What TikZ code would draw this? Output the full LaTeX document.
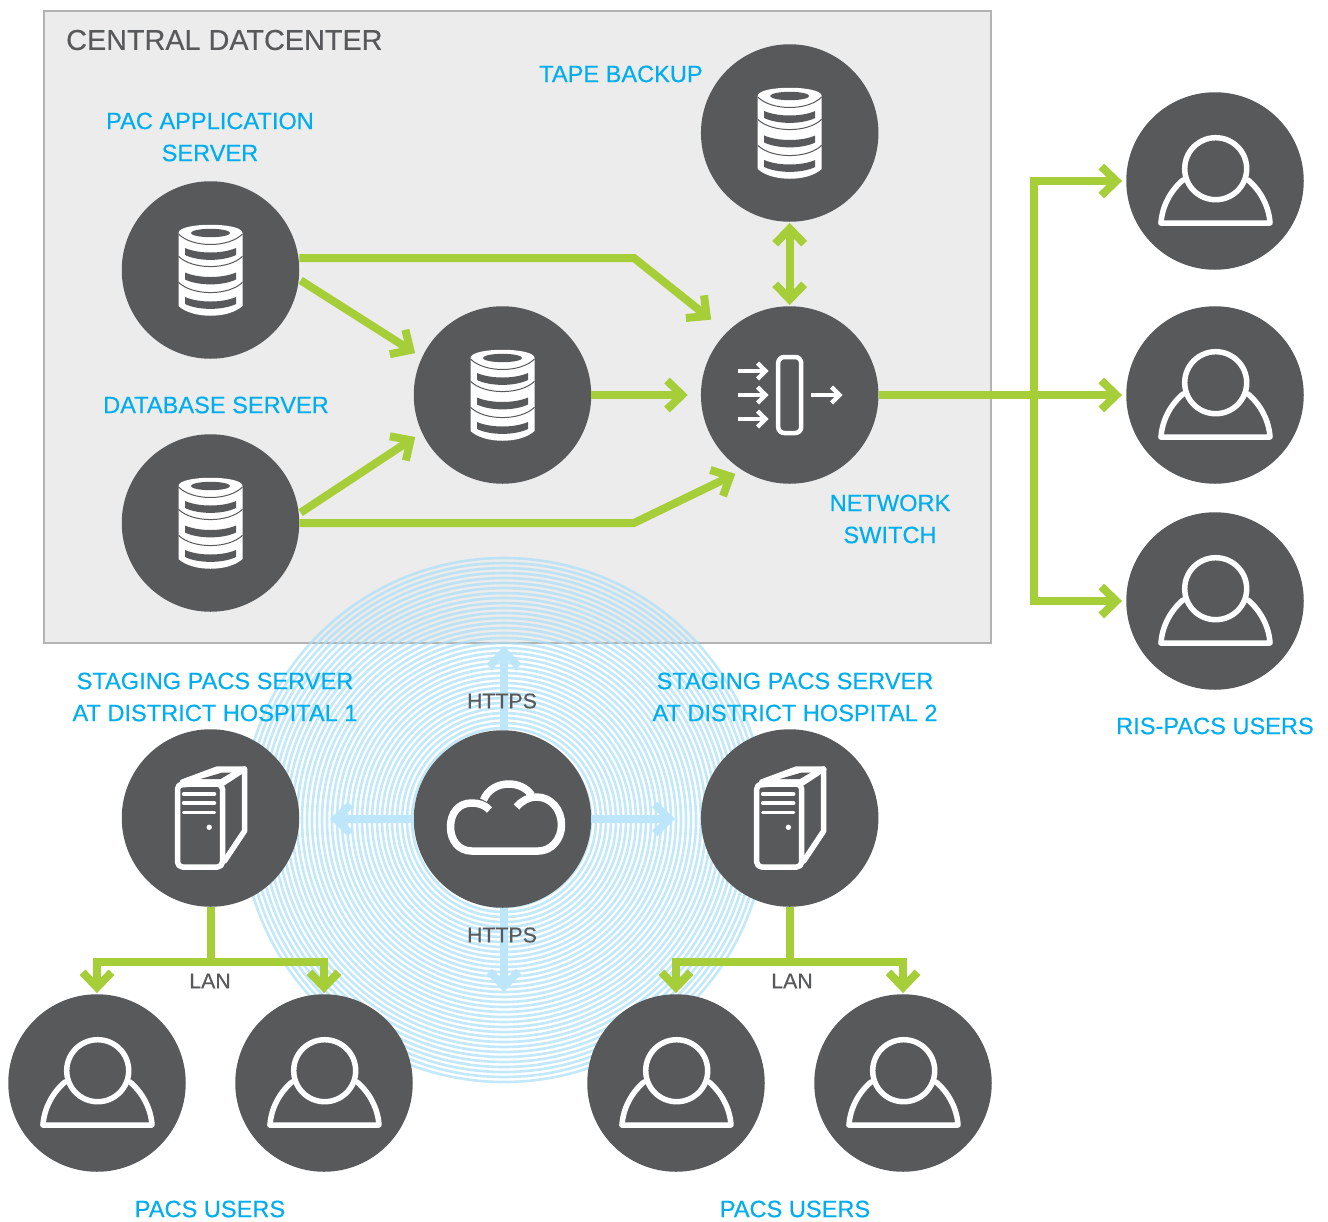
\documentclass[tikz,border=0pt]{standalone}
\usepackage{fontspec}
\setmainfont{Liberation Sans}
\newfontfamily\namefont[FakeBold=0.4]{Liberation Sans}
\usetikzlibrary{arrows.meta}

\definecolor{hubgray}{HTML}{58595B}
\definecolor{flowgreen}{HTML}{A6CE39}
\definecolor{namecyan}{HTML}{00AEEF}
\definecolor{webblue}{HTML}{BDE6FB}
\definecolor{ringblue}{HTML}{A9DEF6}
\definecolor{boxgray}{HTML}{ECECEC}
\definecolor{boxline}{HTML}{B3B3B3}

\tikzset{
	hub/.style={circle,fill=hubgray,minimum size=177.5pt,inner sep=0pt},
	flow/.style={draw=flowgreen,line width=8pt,-{Straight Barb[length=15pt,width=29pt]}},
	flowplain/.style={draw=flowgreen,line width=8pt},
	webflow/.style={draw=webblue,line width=7.5pt,-{Straight Barb[length=15pt,width=29pt]}},
	placename/.style={text=namecyan,align=center,inner sep=0pt,font=\namefont\fontsize{23.6}{32}\selectfont},
	linkname/.style={text=hubgray,align=center,inner sep=0pt,font=\namefont\fontsize{21.3}{26}\selectfont},
	iconline/.style={draw=white,line width=5.5pt,line join=round,line cap=round},
}

\newcommand{\dbicon}[1]{
	\begin{scope}[shift={(#1)},yshift=1pt]
		\fill[white] (-32,-36) .. controls (-32,-47) and (32,-47) .. (32,-36) -- (32,37)
			.. controls (18,50) and (-18,50) .. (-32,37) -- cycle;
		\fill[hubgray] (0,-36) ellipse (19.5 and 4.2);
		\draw[hubgray,line width=1pt] (-32,-35) .. controls (-18,-21) and (18,-21) .. (32,-35);
		\foreach \slice in {0,1,2}{
			\fill[hubgray,yshift=-24.5*\slice pt] (-25.5,-21) .. controls (-12,-15) and (12,-15) .. (25.5,-21)
				-- (25.5,-14) .. controls (12,-7.5) and (-12,-7.5) .. (-25.5,-14) -- cycle;
		}
		\foreach \slice in {0,1}{
			\draw[hubgray,line width=1pt,yshift=-26*\slice pt] (-32,-12.7) .. controls (-18,1) and (18,1) .. (32,-12.7);
		}
	\end{scope}
}
\newcommand{\usericon}[1]{
	\begin{scope}[shift={(#1)}]
		\draw[iconline] (-54,42) -- (55,42) .. controls (54,26) and (46,10) .. (33,-1);
		\draw[iconline] (-54,42) .. controls (-53,26) and (-45,10) .. (-32,-1);
		\draw[iconline] (0.7,-12.3) circle (31);
	\end{scope}
}
\newcommand{\servericon}[1]{
	\begin{scope}[shift={(#1)}]
		\fill[white] (-33,-30) -- (7,-49) -- (34,-49) -- (11,-34) -- cycle;
		\fill[hubgray] (-10,-39) -- (12,-45.5) -- (21,-45.5) -- (10,-39) -- cycle;
		\draw[iconline] (-28,-36) -- (7,-49) -- (34,-49) -- (34,13) -- (14,43);
		\draw[iconline] (11,-34) -- (34,-49);
		\draw[iconline,rounded corners=5pt] (-33,-34) rectangle (12,49);
		\foreach \ventpos in {-24,-15,-5.7}{
			\draw[white,line width=3.5pt,line cap=round] (-27,\ventpos) -- (4,\ventpos);
		}
		\fill[white] (-1.3,9.3) circle (2.7);
	\end{scope}
}
\newcommand{\switchicon}[1]{
	\begin{scope}[shift={(#1)}]
		\draw[iconline,rounded corners=6pt,line width=4.5pt] (-11.5,-38) rectangle (11.5,38);
		\foreach \inpos in {-24,0,24}{
			\draw[white,line width=4.5pt,-{Straight Barb[length=8pt,width=16pt]}] (-52,\inpos) -- (-21,\inpos);
		}
		\draw[white,line width=4.5pt,-{Straight Barb[length=8pt,width=16pt]}] (21,0) -- (53,0);
	\end{scope}
}
\newcommand{\cloudicon}[1]{
	\begin{scope}[shift={(#1)}]
		\draw[iconline,line cap=butt,line width=7.5pt] (14,-12) .. controls (19,-18) and (26,-22) .. (34,-22)
			.. controls (49,-22) and (59,-9) .. (59,6) .. controls (59,20) and (49,32) .. (36,32)
			-- (-31,32) .. controls (-44,32) and (-52,21) .. (-52,8)
			.. controls (-52,-6) and (-44,-16) .. (-31,-16) .. controls (-24,-16) and (-17,-14) .. (-13,-9);
		\draw[iconline,line cap=butt,line width=7.5pt] (-19,-19) .. controls (-15,-29) and (-5,-35) .. (6,-35)
			.. controls (16,-35) and (24,-31) .. (29,-24);
	\end{scope}
}

\begin{document}
\begin{tikzpicture}[x=1pt,y=-1pt]
	\useasboundingbox (0,0) rectangle (1328,1221);

	\draw[fill=boxgray,draw=boxline,line width=2.5pt] (44,11) rectangle (991,643);

	% rings round the cloud
	\coordinate (ripple) at (504,820);
	\foreach \ringr in {87,92,...,262}{
		\draw[ringblue,line width=2.6pt,opacity=.7] (ripple) circle (\ringr);
	}

	\node[hub] (app) at (210.5,270) {};
	\node[hub] (db) at (210.5,523) {};
	\node[hub] (mid) at (502.5,395) {};
	\node[hub] (switch) at (789.7,395) {};
	\node[hub] (tape) at (789.7,133) {};
	\node[hub] (cloud) at (502.5,819) {};
	\node[hub] (stagea) at (210.5,818) {};
	\node[hub] (stageb) at (789.7,818) {};
	\foreach \usrname/\usrpos in {risa/{1215,181},risb/{1215,395},risc/{1215,601},
		pacsa/{97,1083},pacsb/{324,1083},pacsc/{676,1083},pacsd/{903,1083}}{
		\node[hub] (\usrname) at (\usrpos) {};
		\usericon{\usrname}
	}
	\dbicon{app}
	\dbicon{db}
	\dbicon{mid}
	\dbicon{tape}
	\switchicon{switch}
	\cloudicon{cloud}
	\servericon{stagea}
	\servericon{stageb}

	\coordinate (bendtop) at (634,258);
	\coordinate (bendlow) at (634,523);
	\coordinate (uplink) at (1034,395);
	\coordinate (upturn) at (1034,181);
	\coordinate (downturn) at (1034,601);
	\coordinate (lana) at (210.5,962);
	\coordinate (lanaleft) at (97,962);
	\coordinate (lanaright) at (324,962);
	\coordinate (lanb) at (789.7,962);
	\coordinate (lanbleft) at (676,962);
	\coordinate (lanbright) at (903,962);
	\coordinate (webup) at (504,646);
	\coordinate (webleft) at (330,819);
	\coordinate (webright) at (675,819);
	\coordinate (webdown) at (504,992);

	\draw[flow,shorten >=20pt] (app.east |- bendtop) -- (bendtop) -- (switch.135);
	\draw[flow,shorten <=2pt,shorten >=8pt] (app.-6) -- (mid.155);
	\draw[flow,shorten <=2pt,shorten >=8pt] (db.6) -- (mid.205);
	\draw[flow,shorten >=8pt] (db.east) -- (bendlow) -- (switch.-122);
	\draw[flow,shorten >=13pt] (mid.east) -- (switch.west);
	\draw[flow,{Straight Barb[length=15pt,width=29pt]}-{Straight Barb[length=15pt,width=29pt]},shorten <=1pt,shorten >=1pt] (tape.south) -- (switch.north);
	\draw[flowplain] (switch.east) -- (uplink);
	\draw[flow,shorten >=4pt] (uplink) -- (risb);
	\draw[flow,shorten >=4pt] (uplink) -- (upturn) -- (risa);
	\draw[flow,shorten >=4pt] (uplink) -- (downturn) -- (risc);

	\draw[webflow] (webup |- cloud.north) -- (webup);
	\draw[webflow] (cloud.west) -- (webleft);
	\draw[webflow] (cloud.east) -- (webright);
	\draw[webflow] (webdown |- cloud.south) -- (webdown);

	\draw[flowplain] (stagea.south) -- (lana);
	\draw[flowplain] (stageb.south) -- (lanb);
	\draw[flow,shorten >=1pt] (lana) -- (lanaleft) -- (pacsa);
	\draw[flow,shorten >=1pt] (lana) -- (lanaright) -- (pacsb);
	\draw[flow,shorten >=1pt] (lanb) -- (lanbleft) -- (pacsc);
	\draw[flow,shorten >=1pt] (lanb) -- (lanbright) -- (pacsd);

	\node[text=hubgray,inner sep=0pt,anchor=west,font=\namefont\fontsize{28.8}{34}\selectfont] (central) at (66,40) {CENTRAL DATCENTER};
	\node[placename] (tapename) at (621,74) {TAPE BACKUP};
	\node[placename] (appname) at (210,137) {PAC APPLICATION\\SERVER};
	\node[placename] (dbname) at (216,405) {DATABASE SERVER};
	\node[placename] (switchname) at (890,519) {NETWORK\\SWITCH};
	\node[placename] (stageaname) at (215,697) {STAGING PACS SERVER\\AT DISTRICT HOSPITAL 1};
	\node[placename] (stagebname) at (795,697) {STAGING PACS SERVER\\AT DISTRICT HOSPITAL 2};
	\node[placename] (risname) at (1215,726) {RIS-PACS USERS};
	\node[placename] (pacsaname) at (210,1209) {PACS USERS};
	\node[placename] (pacsbname) at (795,1209) {PACS USERS};
	\node[linkname] (httpsup) at (502,701) {HTTPS};
	\node[linkname] (httpsdown) at (502,935) {HTTPS};
	\node[linkname] (lananame) at (210,981) {LAN};
	\node[linkname] (lanbname) at (792,981) {LAN};
\end{tikzpicture}
\end{document}
